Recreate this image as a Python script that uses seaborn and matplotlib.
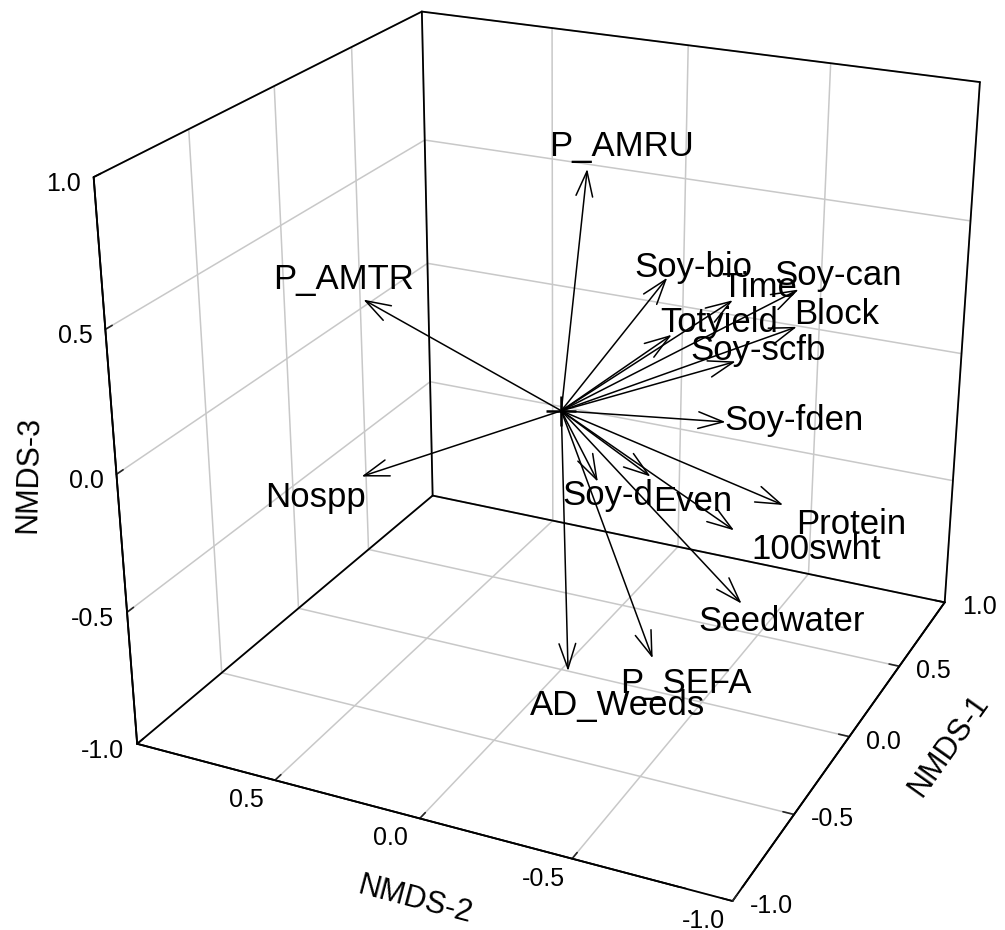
import numpy as np
import matplotlib
matplotlib.use("Agg")
import matplotlib.pyplot as plt
import matplotlib.transforms as mtransforms
from matplotlib.patches import FancyArrowPatch
from matplotlib.ticker import NullFormatter
from mpl_toolkits.mplot3d import proj3d
import seaborn as sns

# Fitted environmental vectors on the three NMDS axes
variables = ["P_AMRU", "P_AMTR", "Nospp", "Soy-bio", "Time", "Soy-can",
             "Totyield", "Block", "Soy-scfb", "Soy-fden", "Soy-d", "Even",
             "Protein", "100swht", "Seedwater", "P_SEFA", "AD_Weeds"]
nmds1 = [0.08, -0.11, -0.37, 0.37, 0.41, 0.52, 0.27, 0.46, 0.32, 0.22,
         -0.05, 0.02, 0.17, 0.06, -0.04, -0.25, -0.12]
nmds2 = [-0.05, 0.64, 0.52, -0.20, -0.41, -0.59, -0.26, -0.61, -0.46, -0.47,
         -0.15, -0.30, -0.69, -0.57, -0.64, -0.43, -0.08]
nmds3 = [0.84, 0.33, -0.19, 0.38, 0.32, 0.35, 0.22, 0.24, 0.14, -0.04,
         -0.21, -0.19, -0.28, -0.35, -0.56, -0.71, -0.92]
x_ticks = [-1.0, -0.5, 0.0, 0.5, 1.0]
y_ticks = [-1.0, -0.5, 0.0, 0.5]
z_ticks = [-1.0, -0.5, 0.0, 0.5, 1.0]

# label nudges in pixels so names sit just beyond the arrow heads
label_nudge = {
    "P_AMRU": (34, 22), "P_AMTR": (-20, 20), "Nospp": (-46, -21),
    "Soy-bio": (26, 10), "Time": (26, 13), "Soy-can": (39, 14),
    "Totyield": (48, 12), "Block": (40, 12), "Soy-scfb": (22, 11),
    "Soy-fden": (68, 1), "Soy-d": (10, -14), "Even": (42, -25),
    "Protein": (68, -19), "100swht": (82, -19), "Seedwater": (40, -18),
    "P_SEFA": (33, -25), "AD_Weeds": (49, -34),
}

sns.set_theme(style="white")
plt.rcParams["font.family"] = ["Liberation Sans", "DejaVu Sans"]
plt.rcParams["axes.unicode_minus"] = False


class Arrow3D(FancyArrowPatch):
    def __init__(self, xs, ys, zs, *args, **kwargs):
        super().__init__((0, 0), (0, 0), *args, **kwargs)
        self._verts3d = xs, ys, zs

    def do_3d_projection(self, renderer=None):
        xs3d, ys3d, zs3d = self._verts3d
        xs, ys, zs = proj3d.proj_transform(xs3d, ys3d, zs3d, self.axes.M)
        self.set_positions((xs[0], ys[0]), (xs[1], ys[1]))
        return np.min(zs)


fig = plt.figure(figsize=(10.05, 9.3), dpi=100)
ax = fig.add_axes([0.046, 0.0448, 1.0, 1.0], projection="3d")
ax.computed_zorder = False
ax.set_proj_type("persp", focal_length=0.514)
ax.view_init(elev=23.8, azim=-154.8)
ax.set_box_aspect((0.989, 1.0, 0.931), zoom=1.119)

ax.set_xlim(-1, 1)
ax.set_ylim(-1, 1)
ax.set_zlim(-1, 1)
ax.set_xticks(x_ticks)
ax.set_yticks(y_ticks)
ax.set_zticks(z_ticks)
for axis in (ax.xaxis, ax.yaxis, ax.zaxis):
    axis.set_major_formatter(NullFormatter())
    for tick in axis.get_major_ticks():
        tick.label1.set_visible(False)
        tick.label2.set_visible(False)
    axis.set_pane_color((1, 1, 1, 1))
    axis.pane.set_edgecolor("white")
    axis.line.set_color("black")
    axis.line.set_linewidth(1.3)
    axis._axinfo["grid"].update(color="#c8c8c8", linewidth=1.1, linestyle="-")
    axis._axinfo["tick"].update(inward_factor=0.0, outward_factor=0.22)
    axis._axinfo["tick"]["linewidth"] = {True: 1.2, False: 0.8}
    axis._axinfo["tick"]["color"] = "black"
ax.grid(True)


def offset_text(xyz, text, shift, **kw):
    tr = mtransforms.offset_copy(ax.transData, fig=fig, x=shift[0], y=shift[1],
                                 units="dots")
    ax.text(*xyz, text, color="black", transform=tr, **kw)


# tick labels beside each axis edge
for t in x_ticks:
    offset_text((t, -1, -1), f"{t:.1f}", (17, -5), fontsize=18,
                ha="left", va="center")
for t in y_ticks:
    offset_text((-1, t, -1), f"{t:.1f}", (-29, -20), fontsize=18,
                ha="center", va="center")
for t in z_ticks:
    offset_text((-1, 1, t), f"{t:.1f}", (-13, -7), fontsize=18,
                ha="right", va="center")

# axis titles along their edges
offset_text((0.3, -1, -1), "NMDS-1", (69, -52), zdir="x", fontsize=22,
            ha="center", va="center")
offset_text((-1, -0.05, -1), "NMDS-2", (-20, -78), zdir="y", fontsize=22,
            ha="center", va="center")
offset_text((-1, 1, 0.0), "NMDS-3", (-88, 0), zdir=(0.15, 0, 1), fontsize=22,
            ha="center", va="center")

# black frame along the back walls and the floor
lo, hi = -1, 1
frame = [
    ((lo, hi), (hi, hi), (lo, lo)), ((hi, hi), (hi, lo), (lo, lo)),
    ((lo, lo), (hi, lo), (lo, lo)), ((lo, hi), (lo, lo), (lo, lo)),
    ((lo, lo), (hi, hi), (lo, hi)), ((hi, hi), (hi, hi), (lo, hi)),
    ((hi, hi), (lo, lo), (lo, hi)), ((lo, hi), (hi, hi), (hi, hi)),
    ((hi, hi), (hi, lo), (hi, hi)),
]
for xs, ys, zs in frame:
    ax.plot(xs, ys, zs, color="black", lw=1.3, zorder=2)

for name, x, y, z in zip(variables, nmds1, nmds2, nmds3):
    arr = Arrow3D([0, x], [0, y], [0, z],
                  arrowstyle="->,head_length=0.9,head_width=0.3",
                  mutation_scale=20, lw=1.1, color="black",
                  shrinkA=0, shrinkB=0, zorder=3)
    ax.add_artist(arr)
    offset_text((x, y, z), name, label_nudge[name], fontsize=25,
                ha="center", va="center", zorder=4)

ax.plot([0], [0], [0], marker="+", markersize=22, mew=1.8,
        color="black", zorder=5)

fig.savefig("out.png", dpi=100)
